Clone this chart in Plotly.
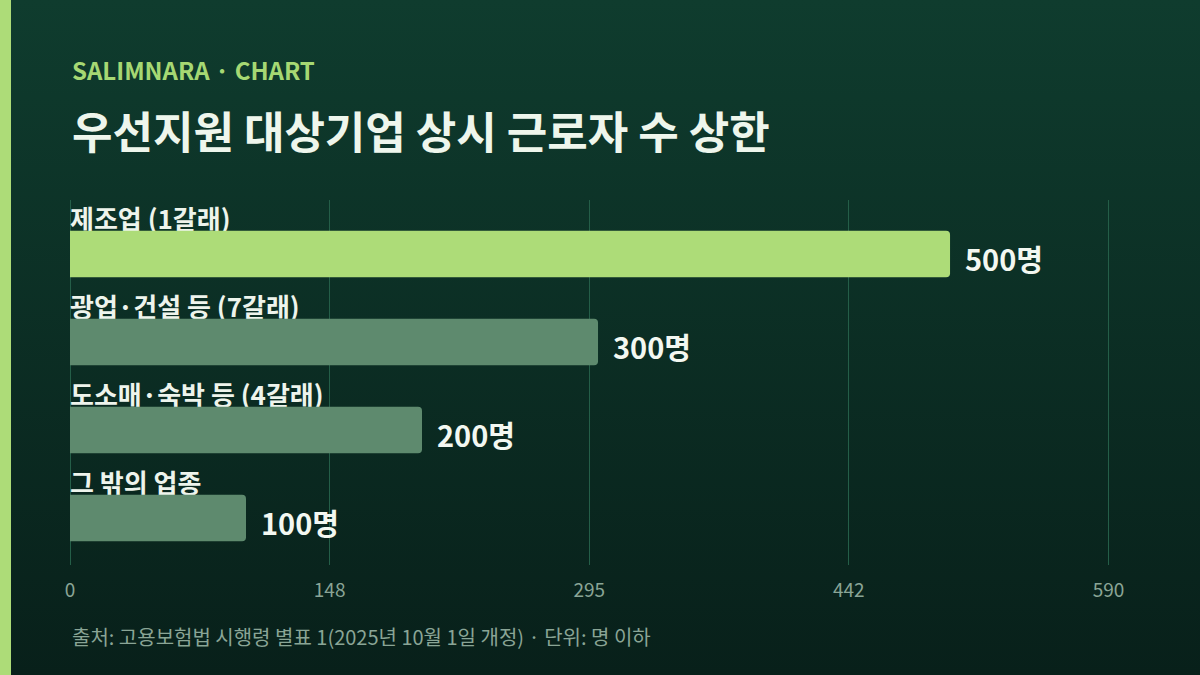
import base64

import plotly.graph_objects as go

# data
categories = ["제조업 (1갈래)", "광업·건설 등 (7갈래)", "도소매·숙박 등 (4갈래)", "그 밖의 업종"]
limits = [500, 300, 200, 100]
value_labels = ["500명", "300명", "200명", "100명"]
tick_values = [0, 147.5, 295, 442.5, 590]
tick_labels = ["0", "148", "295", "442", "590"]

W, H = 1200, 675
ML, MR, MT, MB = 70, 90, 200, 110
PW, PH = W - ML - MR, H - MT - MB
XMAX = tick_values[-1]

FONT = "Noto Sans CJK KR"
bar_colors = ["#addc78"] + ["#5e8a6e"] * (len(categories) - 1)

# background gradient as an inline svg
svg = (
    '<svg xmlns="http://www.w3.org/2000/svg" width="1200" height="675">'
    '<defs><linearGradient id="g" x1="0" y1="0" x2="0" y2="1">'
    '<stop offset="0" stop-color="#0f3c2e"/><stop offset="1" stop-color="#08201a"/>'
    '</linearGradient></defs><rect width="1200" height="675" fill="url(#g)"/></svg>'
)
bg_src = "data:image/svg+xml;base64," + base64.b64encode(svg.encode()).decode()

fig = go.Figure()

# category names: text of an invisible band above each bar, drawn first so
# the real bars sit on top of the label bottoms
pad = 3 * XMAX / PW  # plotly's inside-text padding, in x units
fig.add_trace(go.Bar(
    x=[XMAX + pad] * len(categories),
    y=categories,
    base=-pad,
    orientation="h",
    offset=-0.51, width=0.2,
    marker=dict(color="rgba(0,0,0,0)", line_width=0),
    text=categories,
    textposition="inside", insidetextanchor="start", textangle=0,
    constraintext="none",
    textfont=dict(family=FONT, size=26, color="#eef4ec", weight="bold"),
    hoverinfo="skip", showlegend=False,
))

fig.add_trace(go.Bar(
    x=limits,
    y=categories,
    orientation="h",
    marker=dict(color=bar_colors, cornerradius=4, line_width=0),
    width=0.53,
    hoverinfo="skip",
    showlegend=False,
))

annotations = []
for cat, val, lab in zip(categories, limits, value_labels):
    annotations.append(dict(
        xref="x", yref="y", x=val, y=cat, text=lab, showarrow=False,
        xanchor="left", yanchor="middle", xshift=13, yshift=-4,
        font=dict(family=FONT, size=29, color="#f3f8f1", weight="bold"),
    ))

annotations.append(dict(
    xref="paper", yref="paper", x=0, y=1 + 130 / PH, text="SALIMNARA · CHART",
    showarrow=False, xanchor="left", yanchor="middle",
    font=dict(family=FONT, size=24, color="#a6d873", weight="bold"),
))
annotations.append(dict(
    xref="paper", yref="paper", x=0, y=1 + 70 / PH, text="우선지원 대상기업 상시 근로자 수 상한",
    showarrow=False, xanchor="left", yanchor="middle",
    font=dict(family=FONT, size=44, color="#eef6ec", weight="bold"),
))
annotations.append(dict(
    xref="paper", yref="paper", x=0, y=-71 / PH,
    text="출처: 고용보험법 시행령 별표 1(2025년 10월 1일 개정) · 단위: 명 이하",
    showarrow=False, xanchor="left", yanchor="middle",
    font=dict(family=FONT, size=20, color="#8aa596"),
))

fig.update_layout(
    width=W, height=H,
    margin=dict(l=ML, r=MR, t=MT, b=MB),
    barmode="overlay",
    paper_bgcolor="#0c2e23",
    plot_bgcolor="rgba(0,0,0,0)",
    annotations=annotations,
    images=[dict(
        source=bg_src, xref="paper", yref="paper",
        x=-ML / PW, y=1 + MT / PH, sizex=W / PW, sizey=H / PH,
        xanchor="left", yanchor="top", sizing="stretch", layer="below",
    )],
    shapes=[dict(
        type="rect", xref="paper", yref="paper",
        x0=-ML / PW, x1=-(ML - 11) / PW, y0=-MB / PH, y1=1 + MT / PH,
        fillcolor="#addc78", line_width=0, layer="above",
    )],
)

# nudge the upper bound a hair so the last grid line is still drawn
fig.update_xaxes(
    range=[0, XMAX * 1.0015], tickvals=tick_values, ticktext=tick_labels,
    showgrid=True, gridcolor="#245e48", gridwidth=1,
    zeroline=True, zerolinecolor="#245e48", zerolinewidth=1,
    showline=False, ticks="", ticklabelstandoff=12,
    tickfont=dict(family=FONT, size=19, color="#8aa596"),
    fixedrange=True,
)
fig.update_yaxes(
    range=[3.534, -0.614], showticklabels=False, showgrid=False,
    zeroline=False, showline=False, fixedrange=True,
)

fig.write_html(
    "out.html",
    config={"displayModeBar": False},
    post_script="document.body.style.margin='0';",
)
